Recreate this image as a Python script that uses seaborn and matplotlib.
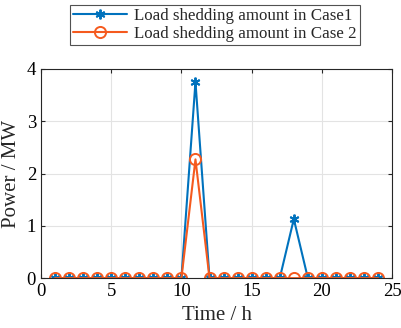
import numpy as np
import pandas as pd
import seaborn as sns
import matplotlib.pyplot as plt

hours = list(range(1, 25))
case1 = [0, 0, 0, 0, 0, 0, 0, 0, 0, 0, 3.75, 0, 0, 0, 0, 0, 0, 1.13, 0, 0, 0, 0, 0, 0]
case2 = [0, 0, 0, 0, 0, 0, 0, 0, 0, 0, 2.27, 0, 0, 0, 0, 0, 0, 0, 0, 0, 0, 0, 0, 0]

sns.set_style("whitegrid")
plt.rcParams['font.family'] = ['Liberation Serif', 'DejaVu Serif']

blue = "#0072BD"
orange = "#F55A1E"

df = pd.DataFrame({"Time": hours, "Case1": case1, "Case2": case2})

fig = plt.figure(figsize=(4.01, 3.28), dpi=100)
ax = fig.add_axes([0.102, 0.152, 0.876, 0.638])

sns.lineplot(data=df, x="Time", y="Case1", ax=ax, color=blue, lw=1.5,
             marker=(6, 2, 0), markersize=7, markeredgecolor=blue, markeredgewidth=1.4,
             label="Load shedding amount in Case1")
sns.lineplot(data=df, x="Time", y="Case2", ax=ax, color=orange, lw=1.5,
             marker="o", markersize=8, markerfacecolor="none", markeredgecolor=orange,
             markeredgewidth=1.4, label="Load shedding amount in Case 2")

ax.set_xlim(0, 25)
ax.set_ylim(0, 4)
ax.set_xticks([0, 5, 10, 15, 20, 25])
ax.set_yticks([0, 1, 2, 3, 4])
ax.grid(True, color="#e3e3e3", lw=0.8)
for s in ax.spines.values():
    s.set_visible(True)
    s.set_color("#262626")
    s.set_linewidth(0.8)
ax.tick_params(direction="in", length=3, labelsize=13.5, colors="#262626",
               top=True, right=True, bottom=True, left=True, labelcolor="black")
ax.set_xlabel("Time / h", fontsize=15)
ax.set_ylabel("Power / MW", fontsize=15)

leg = ax.legend(loc="upper center", bbox_to_anchor=(0.536, 1.012), bbox_transform=fig.transFigure,
                fontsize=12.2, frameon=True, fancybox=False, edgecolor="#262626",
                borderpad=0.2, labelspacing=0.1, handlelength=3.2, handletextpad=0.4)
leg.get_frame().set_linewidth(0.8)

fig.savefig("out.png", dpi=100)
